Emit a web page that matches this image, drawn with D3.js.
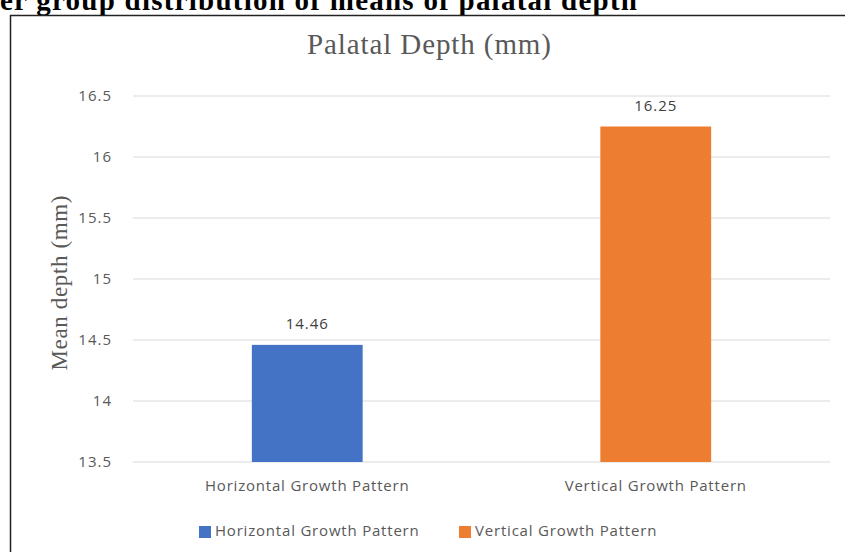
<!DOCTYPE html>
<html>
<head>
<meta charset="utf-8">
<script src="https://cdn.jsdelivr.net/npm/d3@7"></script>
<style>
	body { margin: 0; background: #fff; }
	#chart { width: 845px; height: 552px; }
</style>
</head>
<body>
<div id="chart"></div>
<script>
// Chart data
var categories = ['Horizontal Growth Pattern', 'Vertical Growth Pattern'];
var means = [14.46, 16.25];
var colors = ['#4472c4', '#ed7d31'];
var yTicks = [13.5, 14, 14.5, 15, 15.5, 16, 16.5];

var fullWidth = 845;
var fullHeight = 552;

var svg = d3.select('#chart')
	.append('svg')
	.attr('width', fullWidth)
	.attr('height', fullHeight);

// Clipped heading from the page above the chart
svg.append('text')
	.attr('x', 0)
	.attr('y', 10)
	.attr('font-family', 'Liberation Serif, serif')
	.attr('font-weight', 'bold')
	.attr('font-size', 29)
	.attr('textLength', 637)
	.attr('fill', '#000')
	.text('er group distribution of means of palatal depth');

// Chart frame
svg.append('rect')
	.attr('x', 10.5)
	.attr('y', 15.5)
	.attr('width', 850)
	.attr('height', 560)
	.attr('fill', '#fff')
	.attr('stroke', '#222')
	.attr('stroke-width', 1.5);

var margin = {top: 96, right: 15, bottom: 90, left: 133};
var width = 830 - margin.left;
var height = 462 - margin.top;

var g = svg.append('g')
	.attr('transform', 'translate(' + margin.left + ',' + margin.top + ')');

var xScale = d3.scaleBand()
	.domain(categories)
	.range([0, width]);

var yScale = d3.scaleLinear()
	.domain([13.5, 16.5])
	.range([height, 0]);

// Grid lines
g.selectAll('line.grid')
	.data(yTicks)
	.enter()
	.append('line')
	.attr('class', 'grid')
	.attr('x1', 0)
	.attr('x2', width)
	.attr('y1', function(d) { return yScale(d); })
	.attr('y2', function(d) { return yScale(d); })
	.attr('stroke', '#d9d9d9')
	.attr('stroke-width', 1);

// Y axis labels
var yAxis = g.append('g')
	.call(d3.axisLeft(yScale).tickValues(yTicks).tickSize(0).tickPadding(21).tickFormat(function(d) { return String(d); }));
yAxis.select('.domain').remove();
yAxis.selectAll('text')
	.attr('font-family', 'Open Sans, sans-serif')
	.attr('font-size', 15)
	.attr('letter-spacing', 1)
	.attr('fill', '#595959');

// Bars
var barWidth = xScale.bandwidth() * 0.318;
g.selectAll('rect.bar')
	.data(means)
	.enter()
	.append('rect')
	.attr('class', 'bar')
	.attr('x', function(d, i) { return xScale(categories[i]) + xScale.bandwidth() / 2 - barWidth / 2; })
	.attr('y', function(d) { return yScale(d); })
	.attr('width', barWidth)
	.attr('height', function(d) { return height - yScale(d); })
	.attr('fill', function(d, i) { return colors[i]; });

// Value labels
g.selectAll('text.value')
	.data(means)
	.enter()
	.append('text')
	.attr('class', 'value')
	.attr('x', function(d, i) { return xScale(categories[i]) + xScale.bandwidth() / 2; })
	.attr('y', function(d) { return yScale(d) - 16; })
	.attr('text-anchor', 'middle')
	.attr('font-family', 'Open Sans, sans-serif')
	.attr('font-size', 15)
	.attr('letter-spacing', 1)
	.attr('fill', '#404040')
	.text(function(d) { return d.toFixed(2); });

// Category labels
g.selectAll('text.cat')
	.data(categories)
	.enter()
	.append('text')
	.attr('class', 'cat')
	.attr('x', function(d) { return xScale(d) + xScale.bandwidth() / 2; })
	.attr('y', height + 29)
	.attr('text-anchor', 'middle')
	.attr('font-family', 'Open Sans, sans-serif')
	.attr('font-size', 15)
	.attr('letter-spacing', 0.8)
	.attr('fill', '#595959')
	.text(function(d) { return d; });

// Chart title
svg.append('text')
	.attr('x', 429)
	.attr('y', 54)
	.attr('text-anchor', 'middle')
	.attr('font-family', 'Liberation Serif, serif')
	.attr('font-size', 29)
	.attr('textLength', 244)
	.attr('fill', '#595959')
	.text('Palatal Depth (mm)');

// Y axis title
svg.append('text')
	.attr('transform', 'translate(67,283) rotate(-90)')
	.attr('text-anchor', 'middle')
	.attr('font-family', 'Liberation Serif, serif')
	.attr('font-size', 23)
	.attr('textLength', 175)
	.attr('fill', '#595959')
	.text('Mean depth (mm)');

// Legend
var legendX = [199, 459];
var legend = svg.selectAll('g.legend')
	.data(categories)
	.enter()
	.append('g')
	.attr('class', 'legend')
	.attr('transform', function(d, i) { return 'translate(' + legendX[i] + ',526)'; });
legend.append('rect')
	.attr('width', 12)
	.attr('height', 12)
	.attr('fill', function(d, i) { return colors[i]; });
legend.append('text')
	.attr('x', 16)
	.attr('y', 10)
	.attr('font-family', 'Open Sans, sans-serif')
	.attr('font-size', 15)
	.attr('letter-spacing', 0.8)
	.attr('fill', '#595959')
	.text(function(d) { return d; });
</script>
</body>
</html>
